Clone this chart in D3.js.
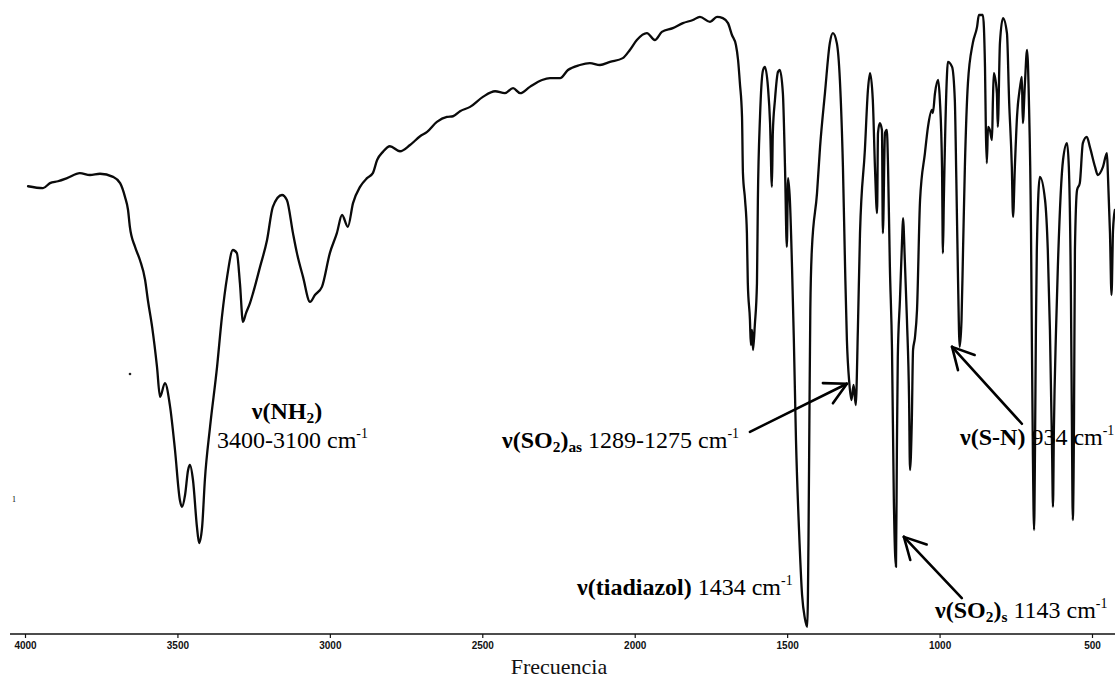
<!DOCTYPE html>
<html>
<head>
<meta charset="utf-8">
<script src="https://cdn.jsdelivr.net/npm/d3@7"></script>
<style>
  html, body { margin: 0; padding: 0; background: #fff; }
  svg { display: block; }
</style>
</head>
<body>
<svg id="chart" width="1115" height="678"></svg>
<script>
// IR spectrum: wavenumber (cm-1) and transmittance (%)
const wavenumber = [
  3990, 3941, 3918, 3892, 3862, 3820, 3787, 3754, 3711, 3688, 3672, 3662, 3656, 3639, 3623, 3606,
  3597, 3583, 3567, 3557, 3541, 3524, 3508, 3492, 3485, 3475, 3465, 3459, 3449, 3436, 3429, 3419,
  3410, 3393, 3370, 3354, 3337, 3318, 3305, 3295, 3285, 3275, 3262, 3252, 3229, 3206, 3187, 3157,
  3141, 3121, 3108, 3088, 3065, 3049, 3026, 3000, 2977, 2960, 2941, 2924, 2901, 2878, 2859, 2845,
  2826, 2803, 2770, 2737, 2704, 2681, 2649, 2616, 2596, 2573, 2540, 2498, 2458, 2426, 2399, 2376,
  2344, 2304, 2278, 2245, 2219, 2180, 2147, 2114, 2081, 2039, 2016, 1993, 1960, 1934, 1911, 1875,
  1842, 1809, 1786, 1753, 1730, 1711, 1694, 1681, 1668, 1661, 1655, 1648, 1645, 1638, 1632, 1629,
  1622, 1619, 1615, 1612, 1606, 1599, 1596, 1589, 1579, 1573, 1563, 1556, 1550, 1547, 1540, 1530,
  1524, 1514, 1507, 1501, 1497, 1491, 1484, 1478, 1471, 1461, 1451, 1442, 1434, 1430, 1427, 1424,
  1419, 1402, 1392, 1376, 1360, 1350, 1337, 1327, 1317, 1310, 1304, 1296, 1289, 1282, 1275, 1268,
  1261, 1245, 1235, 1228, 1219, 1212, 1205, 1202, 1196, 1189, 1186, 1179, 1173, 1169, 1163, 1156,
  1150, 1143, 1140, 1137, 1130, 1123, 1120, 1114, 1107, 1100, 1097, 1091, 1087, 1081, 1074, 1064,
  1048, 1038, 1025, 1022, 1015, 1005, 999, 992, 989, 986, 976, 973, 959, 950, 945, 940,
  934, 928, 923, 917, 907, 891, 877, 871, 858, 851, 848, 845, 841, 835, 828, 825,
  822, 812, 809, 802, 792, 779, 772, 763, 759, 753, 746, 736, 730, 727, 720, 713,
  707, 700, 697, 694, 690, 687, 684, 681, 671, 654, 645, 638, 631, 628, 625, 618,
  612, 595, 582, 576, 569, 566, 563, 559, 556, 549, 540, 530, 517, 507, 490, 481,
  464, 451, 448, 441, 436, 431, 425
];
const transmittance = [
  72.6, 72.3, 73.1, 73.4, 73.9, 74.7, 74.4, 74.6, 74.1, 73.1, 70.9, 68.8, 66.1, 62.9, 60.8, 57.6,
  54.4, 50.1, 43.7, 38.9, 41.1, 37.3, 30.4, 22.4, 21.3, 23.2, 27.2, 28.0, 25.6, 18.1, 15.5, 18.1,
  25.6, 34.1, 43.7, 51.7, 58.1, 62.4, 61.9, 57.1, 50.9, 52.3, 53.9, 55.5, 59.7, 64.0, 69.3, 71.2,
  70.4, 65.1, 61.9, 58.1, 54.1, 55.2, 56.5, 61.9, 65.1, 68.0, 66.1, 69.9, 72.5, 73.9, 74.7, 76.8,
  78.1, 79.0, 78.2, 79.2, 80.6, 81.3, 82.9, 83.7, 83.8, 84.6, 85.3, 86.9, 87.8, 87.5, 88.3, 87.5,
  88.5, 89.6, 89.9, 89.9, 91.2, 92.0, 92.3, 92.0, 92.5, 93.1, 94.4, 96.0, 97.1, 96.0, 97.3, 97.9,
  98.7, 99.2, 99.7, 98.9, 99.7, 99.5, 98.7, 96.8, 95.2, 92.8, 89.1, 83.7, 74.7, 70.4, 65.1, 57.1,
  51.2, 47.2, 49.6, 46.4, 50.4, 57.1, 70.4, 83.7, 91.2, 91.7, 88.5, 82.7, 72.5, 81.1, 86.4, 90.9,
  91.2, 87.5, 75.7, 62.9, 73.9, 70.4, 59.7, 48.0, 32.0, 17.6, 7.2, 3.5, 2.1, 16.0, 35.2, 52.8,
  62.4, 71.5, 78.9, 87.5, 95.5, 97.1, 95.5, 89.6, 75.7, 59.7, 48.0, 41.1, 38.4, 40.8, 37.6, 49.6,
  65.1, 78.4, 88.0, 90.7, 86.4, 75.7, 68.3, 81.1, 82.7, 81.6, 65.1, 81.1, 81.6, 75.7, 59.7, 46.4,
  22.4, 11.7, 30.4, 45.3, 54.4, 64.0, 67.5, 60.8, 51.2, 38.4, 27.2, 35.2, 46.4, 48.3, 52.8, 70.4,
  77.9, 82.1, 84.8, 84.3, 87.5, 89.6, 86.4, 75.7, 61.9, 70.4, 90.1, 92.5, 91.7, 86.4, 73.6, 59.2,
  46.9, 51.2, 62.4, 75.7, 89.1, 95.5, 98.1, 100.0, 100.0, 91.7, 81.1, 76.3, 82.1, 81.6, 80.0, 86.4,
  90.7, 87.5, 82.1, 95.5, 99.5, 97.1, 86.4, 75.7, 67.7, 75.7, 83.7, 88.5, 90.1, 82.7, 89.1, 94.4,
  86.4, 65.1, 46.4, 30.4, 17.6, 30.4, 49.6, 62.4, 74.1, 70.4, 62.4, 49.6, 30.4, 21.3, 33.6, 49.6,
  59.7, 76.8, 79.5, 75.7, 54.4, 35.2, 19.2, 35.2, 62.4, 72.0, 73.1, 79.5, 80.5, 78.9, 75.7, 74.4,
  75.7, 77.9, 74.7, 65.1, 55.2, 65.6, 68.8
];
const tickValues = [4000, 3500, 3000, 2500, 2000, 1500, 1000, 500];
const axisTitle = "Frecuencia";

// Band assignments: text runs (bold / sub / sup) and where each label sits
const bandLabels = [
  { x: 287, y: 419, anchor: "middle", runs: [["ν(NH", "b"], ["2", "b sub"], [")", "b"]] },
  { x: 217, y: 448, anchor: "start", runs: [["3400-3100 cm", ""], ["-1", "sup"]] },
  { x: 502, y: 448, anchor: "start", runs: [["ν(SO", "b"], ["2", "b sub"], [")", "b"], ["as", "b sub"], [" 1289-1275 cm", ""], ["-1", "sup"]] },
  { x: 577, y: 595, anchor: "start", runs: [["ν(tiadiazol)", "b"], [" 1434 cm", ""], ["-1", "sup"]] },
  { x: 960, y: 445, anchor: "start", runs: [["ν(S-N)", "b"], [" 934 cm", ""], ["-1", "sup"]] },
  { x: 935, y: 618, anchor: "start", runs: [["ν(SO", "b"], ["2", "b sub"], [")", "b"], ["s", "b sub"], [" 1143 cm", ""], ["-1", "sup"]] }
];

// Arrows from label to band: tail and tip in (wavenumber, transmittance)
const arrows = [
  { tail: [1622, 33.3], tip: [1304, 41.0] },
  { tail: [730, 34.6], tip: [959, 46.9] },
  { tail: [927, 6.7], tip: [1117, 16.5] }
];

const W = 1115, H = 678;
const svg = d3.select("#chart");

const x = d3.scaleLinear().domain([4000, 500]).range([25, 1092]);
const y = d3.scaleLinear().domain([0, 100]).range([640, 15]);
const axisY = 634;

const spectrum = wavenumber.map((w, i) => ({ w, t: transmittance[i] }));

// Spectrum trace
svg.append("path")
  .datum(spectrum)
  .attr("fill", "none")
  .attr("stroke", "#0a0a0a")
  .attr("stroke-width", 2.3)
  .attr("stroke-linejoin", "round")
  .attr("stroke-linecap", "round")
  .attr("d", d3.line().x(d => x(d.w)).y(d => y(d.t)).curve(d3.curveMonotoneX));

// Frequency axis
const axis = svg.append("g")
  .attr("transform", `translate(0,${axisY})`)
  .call(d3.axisBottom(x).tickValues(tickValues).tickSize(4).tickSizeOuter(0).tickPadding(4).tickFormat(d3.format("d")));
axis.select(".domain").remove();
axis.selectAll(".tick line").attr("stroke", "#111").attr("stroke-width", 1.2);
axis.selectAll(".tick text")
  .attr("font-family", "'Liberation Sans', Arial, sans-serif")
  .attr("font-weight", "bold")
  .attr("font-size", 10)
  .attr("fill", "#111");
axis.append("line")
  .attr("x1", 10).attr("x2", W)
  .attr("y1", 0).attr("y2", 0)
  .attr("stroke", "#111").attr("stroke-width", 1.6);

svg.append("text")
  .attr("x", 559).attr("y", 674)
  .attr("text-anchor", "middle")
  .attr("font-family", "'Liberation Serif', 'Times New Roman', serif")
  .attr("font-size", 22)
  .attr("fill", "#111")
  .text(axisTitle);

// Band labels with sub/superscripts
const fontSize = 24;
bandLabels.forEach(lab => {
  const t = svg.append("text")
    .attr("x", lab.x).attr("y", lab.y)
    .attr("text-anchor", lab.anchor)
    .attr("font-family", "'Liberation Serif', 'Times New Roman', serif")
    .attr("font-size", fontSize)
    .attr("fill", "#000");
  let shift = 0;
  lab.runs.forEach(([txt, style]) => {
    const s = t.append("tspan").text(txt);
    if (style.includes("b")) s.attr("font-weight", "bold");
    let target = 0;
    if (style.includes("sub")) { target = fontSize * 0.16; s.attr("font-size", fontSize * 0.64); }
    if (style.includes("sup")) { target = -fontSize * 0.4; s.attr("font-size", fontSize * 0.58); }
    if (target !== shift) s.attr("dy", target - shift);
    shift = target;
  });
});

// Open-headed arrows
const headLen = 24, headAng = 28 * Math.PI / 180;
arrows.forEach(a => {
  const tx = x(a.tail[0]), ty = y(a.tail[1]);
  const px = x(a.tip[0]), py = y(a.tip[1]);
  const ang = Math.atan2(ty - py, tx - px);
  const g = svg.append("g").attr("stroke", "#000").attr("stroke-width", 2.6).attr("stroke-linecap", "round").attr("fill", "none");
  g.append("line").attr("x1", tx).attr("y1", ty).attr("x2", px).attr("y2", py);
  [-headAng, headAng].forEach(d => {
    g.append("line")
      .attr("x1", px).attr("y1", py)
      .attr("x2", px + headLen * Math.cos(ang + d))
      .attr("y2", py + headLen * Math.sin(ang + d));
  });
});

// Small stray marks on the sheet
svg.append("text").attr("x", 12).attr("y", 502).attr("font-family", "'Liberation Serif', serif")
  .attr("font-size", 8).attr("fill", "#000").text("1");
svg.append("circle").attr("cx", 130).attr("cy", 374).attr("r", 1.3).attr("fill", "#222");
</script>
</body>
</html>
